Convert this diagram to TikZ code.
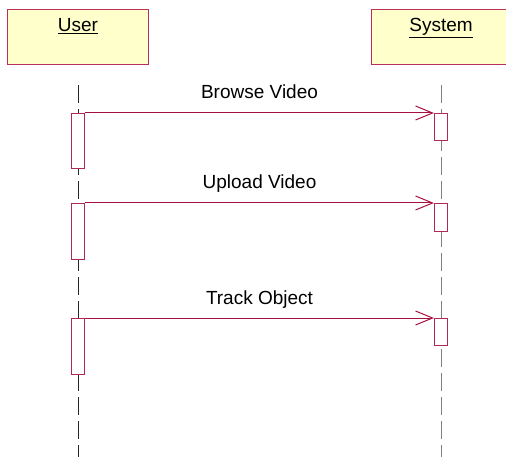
\documentclass[tikz,border=0pt]{standalone}
\usepackage{fontspec}
\setmainfont{Liberation Sans}
\usepackage{xcolor}
\usepackage{tikz}
\usetikzlibrary{arrows.meta}

\definecolor{lifebox}{HTML}{FFFFCC}
\definecolor{lifeedge}{HTML}{B8305A}
\definecolor{actedge}{HTML}{B02858}
\definecolor{msgline}{HTML}{A8103F}

\begin{document}
\begin{tikzpicture}[x=1pt, y=-1pt,
    font=\fontsize{19}{22}\selectfont,
    actor/.style={rectangle, draw=lifeedge, fill=lifebox, line width=1.2pt,
      minimum height=55pt, minimum width=141pt, anchor=north west},
    lifeline/.style={line width=1pt, dash pattern=on 18pt off 6pt},
    act/.style={rectangle, draw=actedge, fill=white, line width=1.3pt,
      minimum width=13pt, inner sep=0pt, anchor=north},
    msg/.style={draw=msgline, line width=1pt,
      -{Straight Barb[length=17pt, width=14pt, line width=1pt]}},
    label/.style={midway, anchor=base, yshift=14pt, text=black}
    ]
    \useasboundingbox (0,0) rectangle (506,457);

    \node[actor] (user) at (7,9) {};
    \node[actor] (system) at (371,9) {};
    \node[anchor=base] at (78,32) {\underline{User}};
    \node[anchor=base] at (441,32) {\underline{System}};

    \coordinate (utop) at (78,85);
    \coordinate (ubot) at (78,457);
    \coordinate (stop) at (441,85);
    \coordinate (sbot) at (441,457);
    \draw[lifeline, black!85] (utop) -- (ubot);
    \draw[lifeline, black!50] (stop) -- (sbot);

    \node[act, minimum height=55pt] (u1) at (78,113) {};
    \node[act, minimum height=56pt] (u2) at (78,203) {};
    \node[act, minimum height=56pt] (u3) at (78,318) {};
    \node[act, minimum height=27pt] (s1) at (441,113) {};
    \node[act, minimum height=28pt] (s2) at (441,203) {};
    \node[act, minimum height=27pt] (s3) at (441,318) {};

    \draw[msg] (u1.north east) -- (s1.north west) node[label] {Browse Video};
    \draw[msg] (u2.north east) -- (s2.north west) node[label] {Upload Video};
    \draw[msg] (u3.north east) -- (s3.north west) node[label] {Track Object};
  \end{tikzpicture}
\end{document}
